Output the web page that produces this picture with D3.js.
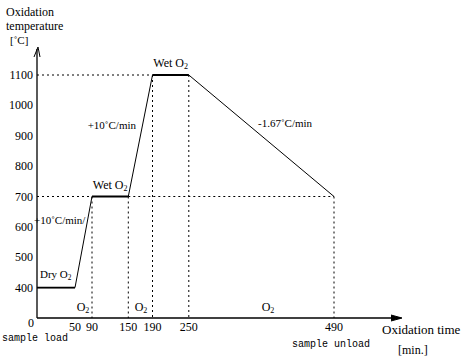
<!DOCTYPE html>
<html>
<head>
<meta charset="utf-8">
<script src="https://cdn.jsdelivr.net/npm/d3@7"></script>
<style>
  body { margin: 0; background: #fff; }
  text { font-family: "Liberation Serif", serif; fill: #000; }
  .mono { font-family: "Liberation Mono", monospace; }
</style>
</head>
<body>
<div id="chart"></div>
<script>
// process steps (time in min, temperature in C)
const times = [0, 50, 90, 150, 190, 250, 490];
const temps = [400, 400, 700, 700, 1100, 1100, 700];
const xTicks = [50, 90, 150, 190, 250, 490];
const yTicks = [400, 500, 600, 700, 800, 900, 1000, 1100];
const rates = ["+10˚C/min", "+10˚C/min", "-1.67˚C/min"];

const width = 466, height = 357;

const svg = d3.select("#chart")
    .append("svg")
    .attr("width", width)
    .attr("height", height);

// the drawing stretches the first 50 minutes a bit
const x = d3.scaleLinear()
    .domain([0, 50, 90, 490])
    .range([37, 75, 92, 334]);

const y = d3.scaleLinear()
    .domain([300, 1100])
    .range([318, 75]);

const data = times.map((t, i) => ({ t: t, v: temps[i] }));

// dotted guide lines
const guides = [
    [0, 1100, 190, 1100],
    [0, 700, 90, 700],
    [150, 700, 490, 700],
    [90, 700, 90, 300],
    [150, 700, 150, 300],
    [190, 1100, 190, 300],
    [250, 1100, 250, 300],
    [490, 700, 490, 300]
];
svg.append("g")
    .selectAll("line")
    .data(guides)
    .join("line")
    .attr("x1", d => x(d[0]))
    .attr("y1", d => y(d[1]))
    .attr("x2", d => x(d[2]))
    .attr("y2", d => y(d[3]))
    .attr("stroke", "#000")
    .attr("stroke-width", 1)
    .attr("stroke-dasharray", "2,3");

// axes
svg.append("line")
    .attr("x1", x(0)).attr("y1", y(300))
    .attr("x2", x(0)).attr("y2", 49)
    .attr("stroke", "#000").attr("stroke-width", 1.3);
svg.append("path")
    .attr("d", `M${x(0) - 3},57 L${x(0) + 1},47 L${x(0) + 3},57`)
    .attr("fill", "none").attr("stroke", "#000");

svg.append("line")
    .attr("x1", x(0)).attr("y1", y(300))
    .attr("x2", 400).attr("y2", y(300))
    .attr("stroke", "#000").attr("stroke-width", 1.3);
svg.append("path")
    .attr("d", `M391,${y(300) - 3} L402,${y(300)} L391,${y(300) + 3}`)
    .attr("fill", "#000").attr("stroke", "#000");

// y tick labels
svg.append("g")
    .selectAll("text")
    .data(yTicks)
    .join("text")
    .attr("x", 33)
    .attr("y", d => y(d) + 4)
    .attr("text-anchor", "end")
    .attr("font-size", 12)
    .text(d => d);

svg.append("text").attr("x", 34).attr("y", 327)
    .attr("text-anchor", "end").attr("font-size", 12).text("0");

// x tick labels
svg.append("g")
    .selectAll("text")
    .data(xTicks)
    .join("text")
    .attr("x", d => x(d))
    .attr("y", 331)
    .attr("text-anchor", "middle")
    .attr("font-size", 12)
    .text(d => d);

// temperature profile
const line = d3.line()
    .x(d => x(d.t))
    .y(d => y(d.v));

svg.append("path")
    .datum(data)
    .attr("fill", "none")
    .attr("stroke", "#000")
    .attr("stroke-width", 1)
    .attr("d", line);

// flat parts look heavier
svg.append("g")
    .selectAll("line")
    .data(d3.pairs(data).filter(p => p[0].v === p[1].v))
    .join("line")
    .attr("x1", p => x(p[0].t))
    .attr("y1", p => y(p[0].v))
    .attr("x2", p => x(p[1].t))
    .attr("y2", p => y(p[1].v))
    .attr("stroke", "#000")
    .attr("stroke-width", 1.8);

// gas labels
function gas(px, py, prefix, anchor, size) {
    const fs = size || 12;
    const t = svg.append("text")
        .attr("x", px).attr("y", py)
        .attr("font-size", fs)
        .attr("text-anchor", anchor || "middle");
    t.append("tspan").text(prefix + "O");
    t.append("tspan").attr("font-size", fs * 0.67).attr("dy", 2).text("2");
    return t;
}
gas(40, 278, "Dry ", "start", 11);
gas(83, 311, "");
gas(141, 311, "");
gas(268, 311, "");
gas((x(90) + x(150)) / 2, y(700) - 8, "Wet ");
gas((x(190) + x(250)) / 2, y(1100) - 8, "Wet ");

// ramp rate labels
svg.append("text").attr("x", 136).attr("y", 129)
    .attr("text-anchor", "end").attr("font-size", 11).text(rates[0]);
svg.append("text").attr("x", 34).attr("y", 224)
    .attr("font-size", 11).text(rates[1] + "/");
svg.append("text").attr("x", 258).attr("y", 127)
    .attr("font-size", 11).text(rates[2]);

// axis titles
svg.append("text").attr("x", 6).attr("y", 16).attr("font-size", 12).text("Oxidation");
svg.append("text").attr("x", 6).attr("y", 30).attr("font-size", 12).text("temperature");
svg.append("text").attr("x", 10).attr("y", 44).attr("font-size", 11).text("[˚C]");

svg.append("text").attr("x", 382).attr("y", 334).attr("font-size", 13).text("Oxidation time");
svg.append("text").attr("x", 398).attr("y", 354).attr("font-size", 12).text("[min.]");

svg.append("text").attr("class", "mono").attr("x", 2).attr("y", 341)
    .attr("font-size", 10).text("sample load");
svg.append("text").attr("class", "mono").attr("x", 292).attr("y", 347)
    .attr("font-size", 10).text("sample unload");
</script>
</body>
</html>
